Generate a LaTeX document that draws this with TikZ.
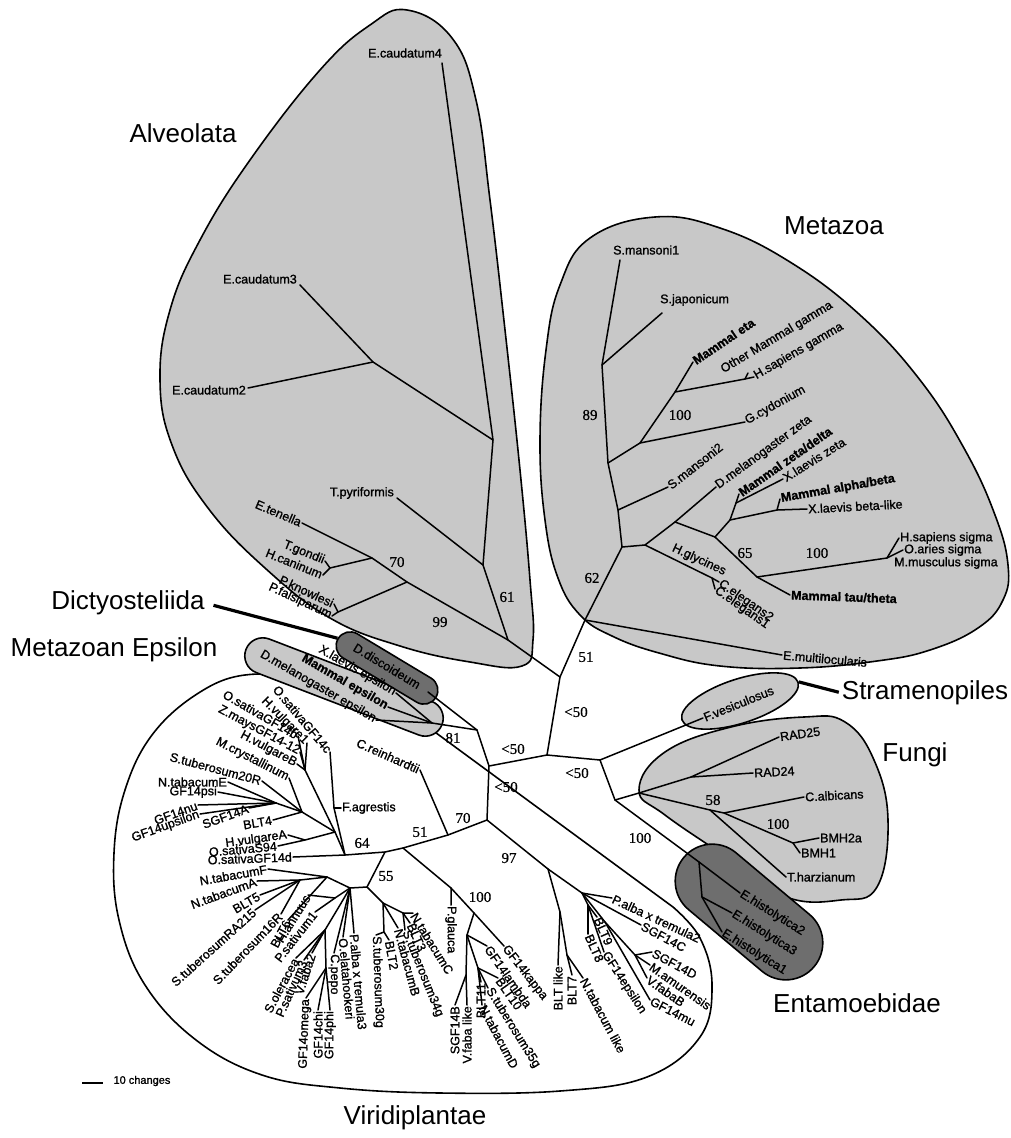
\documentclass[tikz,border=0pt]{standalone}
\usepackage{fontspec}
\setmainfont{Liberation Sans}
\newfontfamily\leaffont{Liberation Sans}[FakeBold=1.2]
\newfontfamily\numfont{Liberation Serif}[FakeBold=0.6]
\usetikzlibrary{shapes.geometric}
\definecolor{cladegray}{RGB}{200,200,200}
\definecolor{darkclade}{RGB}{110,110,110}

\begin{document}
\begin{tikzpicture}[x=1pt, y=-1pt,
  br/.style={line width=1.5pt, line cap=round, line join=round},
  leaf/.style={font=\leaffont\fontsize{12.5}{13}\selectfont, inner sep=1pt},
  mleaf/.style={leaf, font=\leaffont\fontsize{12.5}{13}\selectfont\bfseries},
  boot/.style={font=\numfont\fontsize{15}{15}\selectfont, inner sep=0pt},
  group/.style={font=\fontsize{26}{26}\selectfont, inner sep=0pt},
  blob/.style={draw=black, line width=1.6pt, fill=cladegray},
  leader/.style={line width=3.2pt},
]
\useasboundingbox (0,0) rectangle (1011,1138);

%% Clade outlines
% Alveolata
\draw[blob] plot[smooth cycle, tension=0.7] coordinates {
  (407,10) (452,38) (476,100) (490,200) (505,330) (520,470) (530,580)
  (533,640) (522,666) (470,662) (400,646) (330,618) (265,568) (208,508)
  (172,445) (160,380) (170,310) (200,240) (250,160) (320,70) (370,25)};
% Metazoa
\draw[blob] plot[smooth cycle, tension=0.7] coordinates {
  (655,217) (720,228) (790,262) (860,315) (920,380) (965,450) (995,515)
  (1008,565) (1003,600) (978,628) (930,650) (877,661) (800,668) (720,666)
  (659,653) (612,636) (580,615) (558,578) (545,520) (540,440) (546,350)
  (560,285) (590,238)};
% Viridiplantae
\draw[blob, fill=white] plot[smooth, tension=0.65] coordinates {
  (673,907) (700,938) (712,985) (700,1037) (647,1077) (560,1091) (440,1093)
  (340,1088) (262,1075) (196,1040) (145,985) (119,920) (114,853) (125,790)
  (152,735) (197,694) (245,675) (300,681) (367,712) (428,727)} -- cycle;
% Metazoan Epsilon and Dictyosteliida
\node[blob, rounded corners=18pt, minimum width=210pt, minimum height=36pt, rotate=-21] (epsblob) at (344,687) {};
\node[blob, fill=darkclade, rounded corners=14pt, minimum width=114pt, minimum height=28pt, rotate=-31] (dictyblob) at (387,668) {};
% Stramenopiles
\node[blob, ellipse, minimum width=122pt, minimum height=44pt, rotate=18] (stramblob) at (740,701) {};
% Fungi
\draw[blob] plot[smooth cycle, tension=0.7] coordinates {
  (639,790) (665,752) (731,727) (804,717) (845,722) (874,760) (888,820)
  (877,887) (841,900) (786,897) (731,860) (665,815)};
% Entamoebidae
\node[blob, fill=darkclade, rounded corners=37pt, minimum width=170pt, minimum height=74pt, rotate=-40] (entblob) at (749,912) {};

%% Backbone
\coordinate (cA) at (560,677);
\coordinate (nMet) at (585,620);
\coordinate (cB) at (547,755);
\coordinate (cC) at (489,766);
\coordinate (cD) at (600,760);
\coordinate (n81) at (477,730);
\coordinate (cE) at (487,820);
\coordinate (nFE) at (615,800);
\draw[br] (cA) -- (nMet);
\draw[br] (cA) -- (cB) -- (cC) -- (n81);
\draw[br] (cB) -- (cD) -- (nFE);
\draw[br] (cC) -- (cE);
\node[boot] (b51a) at (586,657) {51};
\node[boot] (b50a) at (576,712) {<50};
\node[boot] (b50b) at (513,749) {<50};
\node[boot] (b50c) at (577,773) {<50};
\node[boot] (b50d) at (506,787) {<50};
\node[boot] (b81) at (453,738) {81};

%% Alveolata
\coordinate (alvA) at (493,440);
\coordinate (alvB) at (373,362);
\coordinate (alvC) at (483,565);
\coordinate (alvD) at (508,640);
\coordinate (alvE) at (372,558);
\coordinate (alvF) at (407,582);
\coordinate (tEc4) at (442,63);
\coordinate (tEc3) at (300,285);
\coordinate (tEc2) at (248,388);
\coordinate (tTpy) at (397,498);
\coordinate (tEte) at (302,523);
\coordinate (toxo) at (330,568);
\coordinate (tTgo) at (325,561);
\coordinate (tHca) at (323,575);
\coordinate (plas) at (338,612);
\coordinate (tPkn) at (334,604);
\coordinate (tPfa) at (332,616);
\draw[br] (tEc4) -- (alvA) -- (alvC) -- (alvD) -- (cA);
\draw[br] (tEc3) -- (alvB) -- (alvA);
\draw[br] (tEc2) -- (alvB);
\draw[br] (tTpy) -- (alvC);
\draw[br] (tEte) -- (alvE) -- (alvF) -- (alvD);
\draw[br] (tTgo) -- (toxo) -- (tHca);
\draw[br] (toxo) -- (alvE);
\draw[br] (tPkn) -- (plas) -- (tPfa);
\draw[br] (plas) -- (alvF);
\node[leaf] (lEc4) at (405,53) {E.caudatum4};
\node[leaf, anchor=east] (lEc3) at (298,279) {E.caudatum3};
\node[leaf, anchor=east] (lEc2) at (247,390) {E.caudatum2};
\node[leaf, anchor=east] (lTpy) at (395,493) {T.pyriformis};
\node[leaf, anchor=east, rotate=-23] (lEte) at (tEte) {E.tenella};
\node[leaf, anchor=east, rotate=-22] (lTgo) at (tTgo) {T.gondii};
\node[leaf, anchor=east, rotate=-22] (lHca) at (tHca) {H.caninum};
\node[leaf, anchor=east, rotate=-25] (lPkn) at (tPkn) {P.knowlesi};
\node[leaf, anchor=east, rotate=-25] (lPfa) at (tPfa) {P.falsiparum};
\node[boot] (b70a) at (397,562) {70};
\node[boot] (b99) at (440,622) {99};
\node[boot] (b61) at (507,597) {61};

%% Metazoa
\coordinate (mA) at (602,365);
\coordinate (mB) at (608,463);
\coordinate (mC) at (618,510);
\coordinate (mD) at (622,547);
\coordinate (tSm1) at (620,260);
\coordinate (tSja) at (662,313);
\coordinate (gA) at (640,443);
\coordinate (gB) at (675,392);
\coordinate (gC) at (745,379);
\coordinate (tGcy) at (745,422);
\coordinate (tMeta) at (693,362);
\coordinate (tHsg) at (754,377);
\coordinate (tOmg) at (748,373);
\coordinate (tSm2) at (668,487);
\coordinate (zA) at (645,545);
\coordinate (zB) at (675,522);
\coordinate (zC) at (715,537);
\coordinate (zD) at (757,577);
\coordinate (zE) at (730,520);
\coordinate (zF) at (736,503);
\coordinate (xA) at (777,510);
\coordinate (sA) at (887,558);
\coordinate (hA) at (712,578);
\coordinate (tDmz) at (716,487);
\coordinate (tTau) at (790,595);
\coordinate (tHss) at (899,538);
\coordinate (tOas) at (903,550);
\coordinate (tMms) at (893,563);
\coordinate (tXbl) at (807,509);
\coordinate (tMab) at (780,499);
\coordinate (tXlz) at (783,479);
\coordinate (tMzd) at (739,494);
\coordinate (tCe2) at (719,582);
\coordinate (tCe1) at (715,589);
\coordinate (tEmu) at (782,655);
\draw[br] (tSm1) -- (mA) -- (mB) -- (mC) -- (mD) -- (nMet);
\draw[br] (tSja) -- (mA);
\draw[br] (mB) -- (gA) -- (gB) -- (tMeta);
\draw[br] (gA) -- (tGcy);
\draw[br] (gB) -- (gC) -- (tHsg);
\draw[br] (gC) -- (tOmg);
\draw[br] (mC) -- (tSm2);
\draw[br] (mD) -- (zA) -- (zB) -- (tDmz);
\draw[br] (zB) -- (zC) -- (zD) -- (tTau);
\draw[br] (zD) -- (sA) -- (tHss);
\draw[br] (sA) -- (tOas);
\draw[br] (zC) -- (zE) -- (xA) -- (tXbl);
\draw[br] (xA) -- (tMab);
\draw[br] (zE) -- (zF) -- (tXlz);
\draw[br] (zF) -- (tMzd);
\draw[br] (zA) -- (hA) -- (tCe2);
\draw[br] (hA) -- (tCe1);
\draw[br] (nMet) -- (tEmu);
\node[leaf, anchor=west] (lSm1) at (612,250) {S.mansoni1};
\node[leaf, anchor=west] (lSja) at (659,300) {S.japonicum};
\node[mleaf, anchor=west, rotate=34] (lMeta) at (tMeta) {Mammal eta};
\node[leaf, anchor=west, rotate=31] (lOmg) at (721,371) {Other Mammal gamma};
\node[leaf, anchor=west, rotate=30] (lHsg) at (tHsg) {H.sapiens gamma};
\node[leaf, anchor=west, rotate=29] (lGcy) at (tGcy) {G.cydonium};
\node[leaf, anchor=west, rotate=38] (lSm2) at (tSm2) {S.mansoni2};
\node[leaf, anchor=west, rotate=36] (lDmz) at (tDmz) {D.melanogaster zeta};
\node[mleaf, anchor=west, rotate=35] (lMzd) at (tMzd) {Mammal zeta/delta};
\node[leaf, anchor=west, rotate=32] (lXlz) at (tXlz) {X.laevis zeta};
\node[mleaf, anchor=west, rotate=10] (lMab) at (tMab) {Mammal alpha/beta};
\node[leaf, anchor=west, rotate=3] (lXbl) at (tXbl) {X.laevis beta-like};
\node[leaf, anchor=west] (lHss) at (tHss) {H.sapiens sigma};
\node[leaf, anchor=west] (lOas) at (tOas) {O.aries sigma};
\node[leaf, anchor=west] (lMms) at (tMms) {M.musculus sigma};
\node[mleaf, anchor=west, rotate=-2] (lTau) at (tTau) {Mammal tau/theta};
\node[leaf, rotate=-25] (lHgl) at (699,560) {H.glycines};
\node[leaf, anchor=west, rotate=-35] (lCe2) at (tCe2) {C.elegans2};
\node[leaf, anchor=west, rotate=-35] (lCe1) at (tCe1) {C.elegans1};
\node[leaf, anchor=west, rotate=-5] (lEmu) at (tEmu) {E.multilocularis};
\node[boot] (b89) at (590,415) {89};
\node[boot] (b100a) at (680,415) {100};
\node[boot] (b62) at (592,578) {62};
\node[boot] (b65) at (745,553) {65};
\node[boot] (b100b) at (817,553) {100};

%% Metazoan Epsilon and Dictyosteliida
\coordinate (nEps) at (432,723);
\coordinate (tXeps) at (396,693);
\coordinate (tMeps) at (388,707);
\coordinate (tDeps) at (376,720);
\coordinate (tDdi) at (428,692);
\draw[br] (tXeps) -- (nEps) -- (n81);
\draw[br] (tMeps) -- (nEps);
\draw[br] (tDeps) -- (nEps);
\draw[br] (tDdi) -- (n81);
\node[leaf, anchor=east, rotate=-30] (lXeps) at (tXeps) {X.laevis epsilon};
\node[mleaf, anchor=east, rotate=-30] (lMeps) at (tMeps) {Mammal epsilon};
\node[leaf, anchor=east, rotate=-30] (lDeps) at (tDeps) {D.melanogaster epsilon};
\node[leaf, rotate=-31] (lDdi) at (387,666) {D.discoideum};

%% Stramenopiles
\coordinate (tFve) at (703,718);
\draw[br] (cD) -- (tFve);
\node[leaf, anchor=west, rotate=22] (lFve) at (tFve) {F.vesiculosus};

%% Fungi
\coordinate (fA) at (639,793);
\coordinate (fB) at (691,777);
\coordinate (fC) at (710,810);
\coordinate (fD) at (724,813);
\coordinate (fE) at (793,843);
\coordinate (tR25) at (779,737);
\coordinate (tR24) at (753,773);
\coordinate (tCal) at (804,797);
\coordinate (tB2a) at (819,838);
\coordinate (tB1) at (800,853);
\coordinate (tThz) at (786,877);
\draw[br] (nFE) -- (fA) -- (fB) -- (tR25);
\draw[br] (fB) -- (tR24);
\draw[br] (fA) -- (fC) -- (fD) -- (tCal);
\draw[br] (fD) -- (fE) -- (tB2a);
\draw[br] (fE) -- (tB1);
\draw[br] (fC) -- (tThz);
\node[leaf, anchor=west, rotate=8] (lR25) at (tR25) {RAD25};
\node[leaf, anchor=west, rotate=3] (lR24) at (tR24) {RAD24};
\node[leaf, anchor=west, rotate=3] (lCal) at (tCal) {C.albicans};
\node[leaf, anchor=west] (lB2a) at (tB2a) {BMH2a};
\node[leaf, anchor=west] (lB1) at (tB1) {BMH1};
\node[leaf, anchor=west] (lThz) at (tThz) {T.harzianum};
\node[boot] (b58) at (713,800) {58};
\node[boot] (b100c) at (778,824) {100};

%% Entamoebidae
\coordinate (eA) at (699,862);
\coordinate (eB) at (702,897);
\coordinate (tEh2) at (740,893);
\coordinate (tEh3) at (732,913);
\coordinate (tEh1) at (722,932);
\draw[br] (nFE) -- (eA) -- (tEh2);
\draw[br] (eA) -- (eB) -- (tEh3);
\draw[br] (eB) -- (tEh1);
\node[leaf, anchor=west, rotate=-32] (lEh2) at (tEh2) {E.histolytica2};
\node[leaf, anchor=west, rotate=-32] (lEh3) at (tEh3) {E.histolytica3};
\node[leaf, anchor=west, rotate=-32] (lEh1) at (tEh1) {E.histolytica1};
\node[boot] (b100d) at (640,838) {100};

%% Viridiplantae
\coordinate (pA) at (448,835);
\coordinate (pB) at (403,848);
\coordinate (pC) at (385,852);
\coordinate (pD) at (345,855);
\coordinate (fa) at (334,808);
\coordinate (uA) at (335,832);
\coordinate (uB) at (305,770);
\coordinate (uC) at (302,812);
\coordinate (uD) at (276,803);
\coordinate (uE) at (305,840);
\coordinate (qA) at (367,887);
\coordinate (qB) at (350,888);
\coordinate (wA) at (327,877);
\coordinate (wB) at (300,880);
\coordinate (wC) at (335,898);
\coordinate (wD) at (340,905);
\coordinate (wE) at (325,930);
\coordinate (wF) at (326,968);
\coordinate (vA) at (383,903);
\coordinate (vB) at (403,913);
\coordinate (vC) at (384,932);
\coordinate (rA) at (451,888);
\coordinate (rB) at (474,913);
\coordinate (rC) at (467,935);
\coordinate (rD) at (466,975);
\coordinate (rE) at (478,968);
\coordinate (kA) at (548,869);
\coordinate (kB) at (582,893);
\coordinate (kC) at (605,922);
\coordinate (kD) at (635,955);
\coordinate (kE) at (560,912);
\coordinate (kF) at (567,955);
\coordinate (kG) at (588,905);
% tips
\coordinate (tCre) at (420,770);
\coordinate (tOgd) at (293,857);
\coordinate (tOgc) at (330,752);
\coordinate (tFag) at (341,808);
\coordinate (tHv1) at (307,743);
\coordinate (tOgb) at (298,736);
\coordinate (tZm) at (300,752);
\coordinate (tHvb) at (297,764);
\coordinate (tMcr) at (289,778);
\coordinate (tSt20) at (262,781);
\coordinate (tNtE) at (228,782);
\coordinate (tGpsi) at (218,792);
\coordinate (tGnu) at (198,805);
\coordinate (tGups) at (200,814);
\coordinate (tSgA) at (249,808);
\coordinate (tBlt4) at (273,820);
\coordinate (tHva) at (288,835);
\coordinate (tOs94) at (278,846);
\coordinate (tNtF) at (268,869);
\coordinate (tNtA) at (257,881);
\coordinate (tBlt5) at (260,895);
\coordinate (tStRA) at (255,910);
\coordinate (tSt16) at (281,914);
\coordinate (tBlt6) at (288,920);
\coordinate (tHan) at (308,895);
\coordinate (tPs1) at (315,912);
\coordinate (tSol) at (296,958);
\coordinate (tPs3) at (304,960);
\coordinate (tVf2) at (312,953);
\coordinate (tGom) at (306,998);
\coordinate (tGchi) at (318,1010);
\coordinate (tGphi) at (330,1010);
\coordinate (tCpe) at (334,953);
\coordinate (tOeh) at (343,937);
\coordinate (tPat3) at (354,933);
\coordinate (tSt30) at (376,935);
\coordinate (tBlt2) at (389,940);
\coordinate (tNtB) at (398,928);
\coordinate (tSt34) at (405,930);
\coordinate (tBlt3) at (410,923);
\coordinate (tNtC) at (413,913);
\coordinate (tPgl) at (451,905);
\coordinate (tGk) at (504,946);
\coordinate (tGl) at (487,946);
\coordinate (tBlt10) at (498,978);
\coordinate (tSt35) at (488,988);
\coordinate (tNtD) at (482,1005);
\coordinate (tBlt11) at (481,982);
\coordinate (tVfl) at (467,1005);
\coordinate (tSgB) at (455,1005);
\coordinate (tBltl) at (558,965);
\coordinate (tBlt7) at (572,975);
\coordinate (tNtl) at (583,978);
\coordinate (tGeps) at (604,952);
\coordinate (tBlt8) at (588,934);
\coordinate (tBlt9) at (597,917);
\coordinate (tPat2) at (612,898);
\coordinate (tSgC) at (641,925);
\coordinate (tSgD) at (652,952);
\coordinate (tMam) at (650,965);
\coordinate (tVfB) at (647,978);
\coordinate (tGmu) at (650,1000);
% branches
\draw[br] (cE) -- (pA) -- (pB) -- (pC) -- (pD) -- (tOgd);
\draw[br] (pA) -- (tCre);
\draw[br] (pD) -- (fa) -- (tOgc);
\draw[br] (fa) -- (tFag);
\draw[br] (pD) -- (uA) -- (uB) -- (tHv1);
\draw[br] (uB) -- (tOgb);
\draw[br] (uB) -- (tZm);
\draw[br] (uB) -- (tHvb);
\draw[br] (uA) -- (uC) -- (tMcr);
\draw[br] (uC) -- (tSt20);
\draw[br] (uC) -- (tBlt4);
\draw[br] (uC) -- (uD) -- (tNtE);
\draw[br] (uD) -- (tGpsi);
\draw[br] (uD) -- (tGnu);
\draw[br] (uD) -- (tGups);
\draw[br] (uD) -- (tSgA);
\draw[br] (uA) -- (uE) -- (tHva);
\draw[br] (uE) -- (tOs94);
\draw[br] (pC) -- (qA) -- (qB) -- (wA) -- (tNtF);
\draw[br] (wA) -- (wB) -- (tNtA);
\draw[br] (wB) -- (tBlt5);
\draw[br] (wB) -- (tStRA);
\draw[br] (wB) -- (tSt16);
\draw[br] (wA) -- (tBlt6);
\draw[br] (qB) -- (wC) -- (tHan);
\draw[br] (wC) -- (tPs1);
\draw[br] (qB) -- (wD) -- (wE) -- (tSol);
\draw[br] (wE) -- (tPs3);
\draw[br] (wE) -- (tVf2);
\draw[br] (wE) -- (wF) -- (tGom);
\draw[br] (wF) -- (tGchi);
\draw[br] (wF) -- (tGphi);
\draw[br] (qB) -- (tCpe);
\draw[br] (qB) -- (tOeh);
\draw[br] (qB) -- (tPat3);
\draw[br] (qA) -- (vA) -- (vB) -- (tNtC);
\draw[br] (vB) -- (tBlt3);
\draw[br] (vB) -- (tSt34);
\draw[br] (vA) -- (vC) -- (tSt30);
\draw[br] (vC) -- (tBlt2);
\draw[br] (vA) -- (tNtB);
\draw[br] (pB) -- (rA) -- (tPgl);
\draw[br] (rA) -- (rB) -- (tGk);
\draw[br] (rB) -- (rC) -- (tGl);
\draw[br] (rC) -- (rD) -- (tSgB);
\draw[br] (rD) -- (tVfl);
\draw[br] (rC) -- (rE) -- (tBlt10);
\draw[br] (rE) -- (tBlt11);
\draw[br] (rE) -- (tSt35);
\draw[br] (rE) -- (tNtD);
\draw[br] (cE) -- (kA) -- (kB) -- (tPat2);
\draw[br] (kB) -- (tSgC);
\draw[br] (kB) -- (kC) -- (kD) -- (tSgD);
\draw[br] (kD) -- (tMam);
\draw[br] (kD) -- (tVfB);
\draw[br] (kC) -- (tGmu);
\draw[br] (kA) -- (kE) -- (tBltl);
\draw[br] (kE) -- (kF) -- (tBlt7);
\draw[br] (kF) -- (tNtl);
\draw[br] (kB) -- (kG) -- (tBlt9);
\draw[br] (kG) -- (tBlt8);
\draw[br] (kG) -- (tGeps);
% labels
\node[leaf, anchor=east, rotate=-24] (lCre) at (tCre) {C.reinhardtii};
\node[leaf, anchor=east, rotate=2] (lOgd) at (tOgd) {O.sativaGF14d};
\node[leaf, anchor=east, rotate=-50] (lOgc) at (tOgc) {O.sativaGF14c};
\node[leaf, anchor=west] (lFag) at (tFag) {F.agrestis};
\node[leaf, anchor=east, rotate=-45] (lHv1) at (tHv1) {H.vulgare1};
\node[leaf, anchor=east, rotate=-30] (lOgb) at (tOgb) {O.sativaGF14b};
\node[leaf, anchor=east, rotate=-28] (lZm) at (tZm) {Z.maysGF14-12};
\node[leaf, anchor=east, rotate=-28] (lHvb) at (tHvb) {H.vulgareB};
\node[leaf, anchor=east, rotate=-27] (lMcr) at (tMcr) {M.crystallinum};
\node[leaf, anchor=east, rotate=-15] (lSt20) at (tSt20) {S.tuberosum20R};
\node[leaf, anchor=east] (lNtE) at (tNtE) {N.tabacumE};
\node[leaf, anchor=east] (lGpsi) at (tGpsi) {GF14psi};
\node[leaf, anchor=east, rotate=20] (lGnu) at (tGnu) {GF14nu};
\node[leaf, anchor=east, rotate=20] (lGups) at (tGups) {GF14upsilon};
\node[leaf, anchor=east, rotate=20] (lSgA) at (tSgA) {SGF14A};
\node[leaf, anchor=east, rotate=10] (lBlt4) at (tBlt4) {BLT4};
\node[leaf, anchor=east, rotate=8] (lHva) at (tHva) {H.vulgareA};
\node[leaf, anchor=east, rotate=5] (lOs94) at (tOs94) {O.sativaS94};
\node[leaf, anchor=east, rotate=10] (lNtF) at (tNtF) {N.tabacumF};
\node[leaf, anchor=east, rotate=20] (lNtA) at (tNtA) {N.tabacumA};
\node[leaf, anchor=east, rotate=30] (lBlt5) at (tBlt5) {BLT5};
\node[leaf, anchor=east, rotate=42] (lStRA) at (tStRA) {S.tuberosumRA215};
\node[leaf, anchor=east, rotate=46] (lSt16) at (tSt16) {S.tuberosum16R};
\node[leaf, anchor=east, rotate=62] (lBlt6) at (tBlt6) {BLT6};
\node[leaf, anchor=east, rotate=58] (lHan) at (tHan) {H.annuus};
\node[leaf, anchor=east, rotate=52] (lPs1) at (tPs1) {P.sativum1};
\node[leaf, anchor=east, rotate=62] (lSol) at (tSol) {S.oleracea};
\node[leaf, anchor=east, rotate=66] (lPs3) at (tPs3) {P.sativum3};
\node[leaf, anchor=east, rotate=72] (lVf2) at (tVf2) {V.faba2};
\node[leaf, anchor=east, rotate=88] (lGom) at (tGom) {GF14omega};
\node[leaf, anchor=east, rotate=90] (lGchi) at (tGchi) {GF14chi};
\node[leaf, anchor=east, rotate=90] (lGphi) at (tGphi) {GF14phi};
\node[leaf, anchor=west, rotate=-90] (lCpe) at (tCpe) {C.pepo};
\node[leaf, anchor=west, rotate=-85] (lOeh) at (tOeh) {O.elatahookeri};
\node[leaf, anchor=west, rotate=-85] (lPat3) at (tPat3) {P.alba x tremula3};
\node[leaf, anchor=west, rotate=-88] (lSt30) at (tSt30) {S.tuberosum30g};
\node[leaf, anchor=west, rotate=-80] (lBlt2) at (tBlt2) {BLT2};
\node[leaf, anchor=west, rotate=-75] (lNtB) at (tNtB) {N.tabacumB};
\node[leaf, anchor=west, rotate=-68] (lSt34) at (tSt34) {S.tuberosum34g};
\node[leaf, anchor=west, rotate=-65] (lBlt3) at (tBlt3) {BLT3};
\node[leaf, anchor=west, rotate=-58] (lNtC) at (tNtC) {N.tabacumC};
\node[leaf, anchor=west, rotate=-90] (lPgl) at (tPgl) {P.glauca};
\node[leaf, anchor=west, rotate=-52] (lGk) at (tGk) {GF14kappa};
\node[leaf, anchor=west, rotate=-55] (lGl) at (tGl) {GF14lambda};
\node[leaf, anchor=west, rotate=-55] (lBlt10) at (tBlt10) {BLT10};
\node[leaf, anchor=west, rotate=-58] (lSt35) at (tSt35) {S.tuberosum35g};
\node[leaf, anchor=west, rotate=-62] (lNtD) at (tNtD) {N.tabacumD};
\node[leaf, anchor=east, rotate=90] (lBlt11) at (tBlt11) {BLT11};
\node[leaf, anchor=east, rotate=90] (lVfl) at (tVfl) {V.faba like};
\node[leaf, anchor=east, rotate=90] (lSgB) at (tSgB) {SGF14B};
\node[leaf, anchor=east, rotate=90] (lBltl) at (tBltl) {BLT like};
\node[leaf, anchor=east, rotate=90] (lBlt7) at (tBlt7) {BLT7};
\node[leaf, anchor=west, rotate=-62] (lNtl) at (tNtl) {N.tabacum like};
\node[leaf, anchor=west, rotate=-57] (lGeps) at (tGeps) {GF14epsilon};
\node[leaf, anchor=west, rotate=-66] (lBlt8) at (tBlt8) {BLT8};
\node[leaf, anchor=west, rotate=-66] (lBlt9) at (tBlt9) {BLT9};
\node[leaf, anchor=west, rotate=-25] (lPat2) at (tPat2) {P.alba x tremula2};
\node[leaf, anchor=west, rotate=-28] (lSgC) at (tSgC) {SGF14C};
\node[leaf, anchor=west, rotate=-28] (lSgD) at (tSgD) {SGF14D};
\node[leaf, anchor=west, rotate=-35] (lMam) at (tMam) {M.amurensis};
\node[leaf, anchor=west, rotate=-35] (lVfB) at (tVfB) {V.fabaB};
\node[leaf, anchor=west, rotate=-27] (lGmu) at (tGmu) {GF14mu};
\node[boot] (b70b) at (463,818) {70};
\node[boot] (b51b) at (420,832) {51};
\node[boot] (b64) at (362,843) {64};
\node[boot] (b55) at (386,876) {55};
\node[boot] (b100e) at (480,897) {100};
\node[boot] (b97) at (509,858) {97};

%% Group names
\node[group] (lAlv) at (183,133) {Alveolata};
\node[group] (lMet) at (834,226) {Metazoa};
\node[group] (lDic) at (128,603) {Dictyosteliida};
\node[group] (lEps) at (114,650) {Metazoan Epsilon};
\node[group] (lStr) at (925,693) {Stramenopiles};
\node[group] (lFun) at (915,755) {Fungi};
\node[group] (lEnt) at (857,1003) {Entamoebidae};
\node[group] (lVir) at (415,1118) {Viridiplantae};
\draw[leader, shorten <=9pt] (lDic.east) -- (dictyblob.west);
\draw[leader, shorten >=3pt] (stramblob.east) -- (lStr.west);

%% Scale bar
\coordinate (sbL) at (82,1083);
\coordinate (sbR) at (103,1083);
\draw[line width=2.2pt] (sbL) -- (sbR);
\node[font=\leaffont\fontsize{11}{11}\selectfont, anchor=west] (lScale) at (110,1081) {10 changes};

\end{tikzpicture}
\end{document}
